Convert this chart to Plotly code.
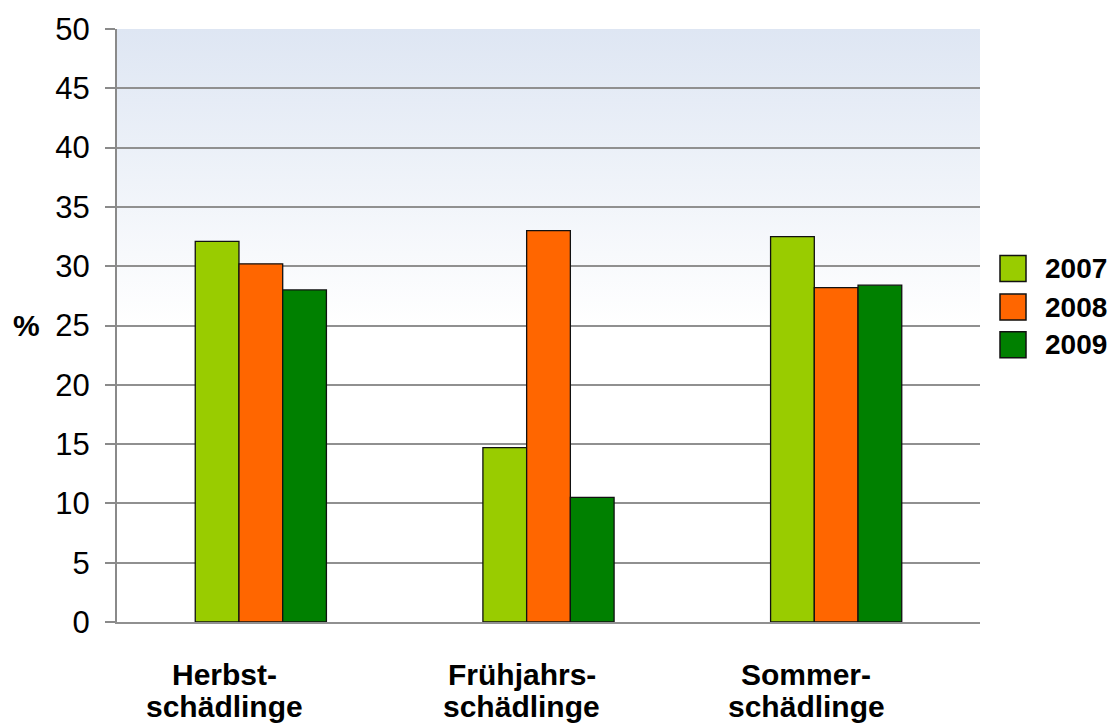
import plotly.graph_objects as go

categories = ["Herbst-\nschädlinge", "Frühjahrs-\nschädlinge", "Sommer-\nschädlinge"]
years = ["2007", "2008", "2009"]
values_2007 = [32.1, 14.7, 32.5]
values_2008 = [30.2, 33.0, 28.2]
values_2009 = [28.0, 10.5, 28.4]
y_ticks = [0, 5, 10, 15, 20, 25, 30, 35, 40, 45, 50]

series = [values_2007, values_2008, values_2009]
colors = ["#99cc00", "#ff6600", "#008000"]
label_xshift = [-36, -27, -30]

W, H = 1113, 725
ML, MR, MT, MB = 117, 133, 25, 103
PW, PH = W - ML - MR, H - MT - MB

def px_to_paper_x(px):
    return (px - ML) / PW

def px_to_paper_y(py):
    return (H - MB - py) / PH

fig = go.Figure()
for name, vals, col in zip(years, series, colors):
    fig.add_trace(go.Bar(
        x=categories, y=vals, name=name, showlegend=False,
        marker=dict(color=col, line=dict(color="#111111", width=1.3)),
    ))

font_family = "Liberation Sans, Arial, sans-serif"

svg = ("data:image/svg+xml;utf8,"
       "<svg xmlns='http://www.w3.org/2000/svg' width='100' height='100' preserveAspectRatio='none'>"
       "<defs><linearGradient id='g' x1='0' y1='0' x2='0' y2='1'>"
       "<stop offset='0' stop-color='%23dee6f3'/>"
       "<stop offset='0.5' stop-color='%23ffffff'/>"
       "<stop offset='1' stop-color='%23ffffff'/>"
       "</linearGradient></defs>"
       "<rect width='100' height='100' fill='url(%23g)'/></svg>")

annotations = []
shapes = []
# category labels (two lines each)
for cat, dx in zip(categories, label_xshift):
    lines = cat.split("\n")
    for line, base in zip(lines, [685, 717]):
        annotations.append(dict(
            x=cat, xref="x", y=px_to_paper_y(base - 10.4), yref="paper",
            text=f"<b>{line}</b>", showarrow=False, xanchor="center", yanchor="middle",
            xshift=dx, font=dict(family=font_family, size=30, color="black"),
        ))

# % label
annotations.append(dict(
    x=px_to_paper_x(26), xref="paper", y=px_to_paper_y(323), yref="paper",
    text="<b>%</b>", showarrow=False, xanchor="center", yanchor="middle",
    font=dict(family=font_family, size=30, color="black"),
))

# legend (manual)
legend_rows = [266, 305, 343]
for name, col, py in zip(years, colors, legend_rows):
    shapes.append(dict(
        type="rect", xref="paper", yref="paper",
        xsizemode="pixel", ysizemode="pixel",
        xanchor=px_to_paper_x(1000), yanchor=px_to_paper_y(py),
        x0=0, x1=26, y0=-13, y1=13,
        fillcolor=col, line=dict(color="#111111", width=1.5),
    ))
    annotations.append(dict(
        x=px_to_paper_x(1043), xref="paper", y=px_to_paper_y(py), yref="paper",
        text=f"<b>{name}</b>", showarrow=False, xanchor="left", yanchor="middle",
        font=dict(family=font_family, size=28, color="black"),
    ))

fig.update_layout(
    width=W, height=H, autosize=False,
    margin=dict(l=ML, r=MR, t=MT, b=MB, pad=0),
    paper_bgcolor="white", plot_bgcolor="white",
    barmode="group", bargap=0.544, bargroupgap=0,
    font=dict(family=font_family, color="black"),
    images=[dict(source=svg, xref="paper", yref="paper", x=0, y=1,
                 sizex=1, sizey=1, sizing="stretch", layer="below",
                 xanchor="left", yanchor="top")],
    shapes=shapes,
    annotations=annotations,
    showlegend=False,
)
fig.update_yaxes(
    range=[0, 50], tickvals=y_ticks, ticktext=[str(v) for v in y_ticks],
    showgrid=True, gridcolor="#909090", gridwidth=1.5,
    showline=True, linecolor="#8a8a8a", linewidth=2,
    ticks="outside", ticklen=10, tickcolor="#8a8a8a", tickwidth=1.5,
    tickfont=dict(size=31, family=font_family, color="black"),
    ticklabelstandoff=9, zeroline=False,
)
fig.update_xaxes(
    showticklabels=False, ticks="", showline=True, linecolor="#909090", linewidth=1.5,
    showgrid=False, zeroline=False,
)

fig.write_html(
    "out.html",
    config={"displayModeBar": False},
    post_script="document.body.style.margin='0';document.body.style.overflow='hidden';",
)
